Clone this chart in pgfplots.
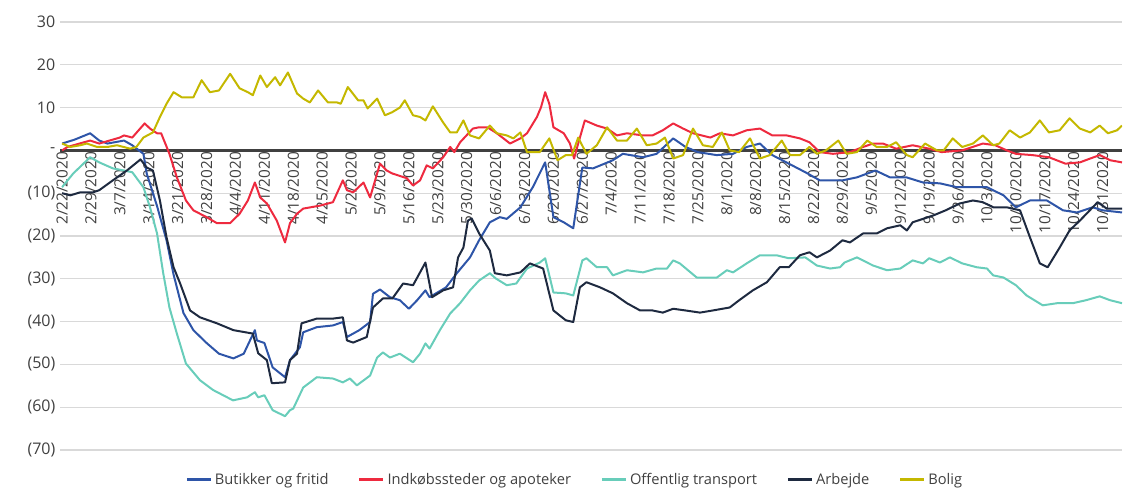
\documentclass[border=0pt]{standalone}
\usepackage{fontspec}
\setmainfont{Open Sans}
\usepackage{pgfplots}
\pgfplotsset{compat=1.18}
\definecolor{cblue}{HTML}{2E55A8}
\definecolor{cred}{HTML}{EE2A3F}
\definecolor{cteal}{HTML}{68CDBA}
\definecolor{cdark}{HTML}{1E2A40}
\definecolor{cyel}{HTML}{C4B800}
\definecolor{cgrid}{HTML}{D9D9D9}
\definecolor{ctext}{HTML}{404040}
\begin{document}
\begin{tikzpicture}
\begin{axis}[
  scale only axis,
  width=796.5pt, height=321pt,
  xmin=-0.5, xmax=256.7,
  ymin=-70, ymax=30,
  axis x line=middle,
  axis y line=left,
  x axis line style={draw=black!75, line width=2.25pt, -},
  y axis line style={draw=none},
  ytick={-70,-60,-50,-40,-30,-20,-10,0,10,20,30},
  yticklabels={(70),(60),(50),(40),(30),(20),(10),-,10,20,30},
  xtick={0,7,...,252},
  xticklabels={2/22/2020,2/29/2020,3/7/2020,3/14/2020,3/21/2020,3/28/2020,4/4/2020,4/11/2020,4/18/2020,4/25/2020,5/2/2020,5/9/2020,5/16/2020,5/23/2020,5/30/2020,6/6/2020,6/13/2020,6/20/2020,6/27/2020,7/4/2020,7/11/2020,7/18/2020,7/25/2020,8/1/2020,8/8/2020,8/15/2020,8/22/2020,8/29/2020,9/5/2020,9/12/2020,9/19/2020,9/26/2020,10/3/2020,10/10/2020,10/17/2020,10/24/2020,10/31/2020},
  xticklabel style={rotate=90, anchor=east, font=\fontsize{11.5}{13}\selectfont, text=ctext, inner sep=1pt},
  yticklabel style={font=\fontsize{12}{14}\selectfont, text=ctext},
  major tick length=0pt,
  ymajorgrids,
  grid style={cgrid, line width=0.9pt},
  every axis plot/.append style={line width=1.5pt, line join=round},
  legend columns=5,
  legend style={at={(0.485,-0.07)}, anchor=center, draw=none, fill=none,
    font=\fontsize{11}{13}\selectfont, text=ctext,
    /tikz/every even column/.append style={column sep=20pt}},
  legend image code/.code={\draw[#1, line width=2.2pt] (0pt,0pt) -- (18pt,0pt);},
]
\addplot[cblue] coordinates {
(0,1.6)(3,2.5)(6.8,4)(9,2.3)(11,1.6)(15,2.3)(17,1.2)(19.7,-0.8)(20.5,-5.4)(23,-13)(25.3,-21)(27,-29)(29.4,-38)(31.8,-42)(35,-45)(38,-47.5)(41.5,-48.6)(44,-47.5)(46.7,-42)(47.2,-44.4)(49,-45)(51,-50.7)(54,-53)(55.2,-49)(57.6,-46)(58.4,-42.5)(61.7,-41.3)(65.6,-40.9)(68,-40.1)(69,-43.6)(72,-42)(74.6,-40.1)(75.3,-33.5)(77,-32.5)(79.4,-34.3)(81.8,-35)(84,-37)(86,-35)(88,-32.7)(89,-34.3)(93,-32)(95.6,-28.7)(98.8,-25)(101,-21)(103.6,-16.8)(106,-15.6)(107.7,-16)(111,-13.3)(114,-8.6)(117,-2.8)(119,-15.6)(121.5,-16.8)(123.8,-18.2)(126,-4)(128.6,-4.2)(133.4,-2.3)(135.8,-0.8)(140.7,-1.6)(144,-0.8)(148,2.8)(151,0.8)(154,-0.4)(158.5,-1.1)(162.5,-0.8)(165.8,0.8)(169,1.6)(172,-1.1)(176,-3.1)(180,-5.1)(183.5,-7)(189,-7)(192.5,-6.3)(197,-4.7)(200.5,-6.3)(204.5,-6.3)(208.5,-7.5)(212.6,-7.7)(216.7,-8.6)(220.6,-8.6)(224,-8.6)(228,-10.5)(231,-13.3)(234.4,-11.7)(238.5,-11.7)(242.4,-14)(245.8,-14.5)(249.6,-13.3)(252,-14)(256.7,-14.5)
};
\addlegendentry{Butikker og fritid}
\addplot[cred] coordinates {
(0,0)(1.3,0.8)(6.8,2.3)(9,1.6)(14,3)(15,3.5)(17,3)(20,6.3)(21.3,5.1)(23,4)(24,4)(26,-0.8)(27.8,-6.3)(30,-11.7)(31.8,-14)(35,-15.6)(37.5,-17)(40.7,-17)(43,-14.8)(45,-11.7)(46.7,-7.5)(48,-11)(49.6,-12.4)(52,-16.4)(54,-21.5)(55.2,-17)(56.9,-14.8)(58.4,-13.6)(62.5,-12.9)(65.6,-12.1)(68,-7)(69,-9.3)(70.5,-9.8)(73,-7.5)(74.6,-11)(77,-3.1)(78.6,-4.7)(80,-5.4)(83.5,-6.5)(85,-8.2)(86.7,-7)(88.3,-3.5)(89.8,-4.2)(92.3,-1.6)(94,0.8)(95,-0.4)(96.4,1.9)(99.5,5.1)(101,5.4)(103,5.4)(105.3,4)(108.5,1.6)(111,2.8)(112.6,4)(115,7.8)(116,10.1)(117,13.6)(118,10.9)(119,5.4)(121.5,4)(123,1.6)(124,-1.9)(125,1.6)(126.6,7)(129.5,5.8)(132,5.1)(134.4,3.5)(136.8,4)(140.7,3.5)(143,3.5)(145.5,4.7)(148,6.3)(150.4,5.1)(152.8,4)(157,3)(159.3,4)(162.5,3.5)(165.8,4.7)(169,5.1)(172,3.5)(175.5,3.5)(178.7,2.8)(181,1.9)(183.5,-0.4)(186.7,-0.8)(190.8,-0.4)(194,0.8)(196.4,1.6)(198.8,1.6)(202,0.4)(206,1.2)(210,0.4)(213,-0.4)(218,0)(223,1.6)(226,1.2)(228.8,0)(231,-0.8)(235,-1.1)(239,-1.6)(243,-3.1)(246.5,-2.8)(249,-1.9)(251.3,-1.1)(253.8,-2.3)(256.7,-2.8)
};
\addlegendentry{Indkøbssteder og apoteker}
\addplot[cteal] coordinates {
(0,-8.6)(2.7,-5.4)(6.8,-1.6)(9,-2.8)(12.3,-4.2)(15,-4.7)(17,-5.1)(19.7,-8.6)(21.3,-13.3)(23,-19.4)(24.5,-28.7)(26,-36.7)(27.8,-42.8)(30,-49.8)(33.4,-53.7)(36.6,-56)(41.4,-58.4)(44.8,-57.7)(46.7,-56.5)(47.5,-57.7)(49,-57.2)(51,-60.7)(54,-62.1)(55.2,-60.7)(56,-60.3)(58.4,-55.4)(61.7,-53)(65.6,-53.3)(68,-54.2)(69.7,-53.3)(71.4,-54.9)(74.6,-52.6)(76.3,-48.4)(77.7,-47.2)(79.4,-48.4)(81.8,-47.5)(85,-49.5)(86.7,-47.5)(88,-45.1)(89,-46.3)(91.5,-42)(94,-38.1)(96.4,-35.7)(98.8,-32.7)(101,-30.4)(103.6,-28.7)(105,-29.9)(107.7,-31.5)(110,-31.1)(112.6,-27.6)(115.7,-26.2)(117,-25.2)(119,-33.2)(122,-33.4)(123.8,-33.9)(126,-25.7)(127,-25.2)(129.5,-27.3)(132,-27.3)(133.4,-29.2)(136.8,-28)(140.7,-28.5)(144,-27.6)(146.5,-27.6)(148,-25.7)(149.6,-26.4)(153.7,-29.7)(158.6,-29.7)(161,-28)(162.5,-28.5)(165.8,-26.4)(169,-24.5)(173,-24.5)(176,-25.2)(180,-25)(182.8,-26.9)(186,-27.6)(188.4,-27.3)(189.5,-26.2)(192.5,-25)(196.4,-26.9)(199.8,-28)(203,-27.6)(206,-25.7)(208.5,-26.4)(210,-25.2)(212.6,-26.2)(215,-25)(218,-26.4)(221.5,-27.3)(224,-27.6)(225.5,-29.2)(228,-29.7)(231,-31.5)(233.6,-33.9)(237.5,-36.2)(241,-35.7)(244.8,-35.7)(248,-35)(251.3,-34.1)(253.8,-35)(256.7,-35.7)
};
\addlegendentry{Offentlig transport}
\addplot[cdark] coordinates {
(0,-10)(2,-10.5)(4.4,-9.8)(7.5,-9.8)(9,-9.3)(12.3,-7)(15.7,-4.7)(19,-2.1)(20.5,-4)(22,-4.7)(23.7,-11.7)(25.3,-20.3)(27,-27.3)(28.6,-31.1)(31,-37.4)(33.4,-39)(37.5,-40.4)(41.5,-42)(46.2,-42.8)(47.5,-47.4)(49.6,-49)(50.8,-54.4)(54,-54.2)(55.2,-49)(56.9,-47.5)(58,-40.4)(61.7,-39.3)(65.6,-39.3)(68,-39)(69,-44.4)(70.5,-44.9)(73.8,-43.6)(75.3,-36.7)(77.7,-34.6)(80,-34.6)(82.6,-31.1)(85,-31.5)(88,-26.2)(89.6,-34.3)(92.3,-32.7)(94.7,-32)(95.9,-25)(97.2,-22.7)(98.3,-16.4)(99.2,-15.9)(101,-19.4)(103.6,-23.4)(104.8,-28.7)(107.7,-29.2)(111,-28.5)(113.3,-26.4)(116.5,-27.6)(119,-37.4)(122,-39.7)(123.8,-40.1)(125.4,-32)(127,-30.8)(130.3,-32)(133.4,-33.4)(136.8,-35.7)(140,-37.4)(143,-37.4)(145.5,-37.9)(148,-37)(151,-37.4)(154.5,-37.9)(157.6,-37.4)(161.7,-36.7)(164,-35)(167.3,-32.7)(170.7,-30.8)(173.8,-27.3)(176,-27.3)(178.7,-24.5)(181,-23.8)(182.8,-25)(186,-23.4)(189,-21)(190.8,-21.5)(194,-19.4)(197.3,-19.4)(199.8,-18.2)(203,-17.5)(204.6,-18.7)(206,-16.8)(211,-15.2)(214,-14)(217.4,-12.4)(220.6,-11.7)(223,-12.1)(225.5,-13.3)(228.8,-13.3)(232,-14)(234.4,-20.3)(236.8,-26.4)(238.7,-27.3)(241.6,-22.7)(244,-18.7)(246.5,-16.4)(250.8,-12.1)(253,-13.6)(256.7,-13.6)
};
\addlegendentry{Arbejde}
\addplot[cyel] coordinates {
(0,1.6)(2,0.8)(4.4,1.2)(6,1.6)(8.5,0.8)(11,0.8)(13.3,1.2)(16.5,0.4)(18,0.8)(19.7,3)(22,4.2)(23.7,7.8)(25.3,10.9)(27,13.6)(29,12.4)(31.8,12.4)(33.8,16.4)(35.8,13.6)(38,14)(40.7,17.9)(43,14.5)(45,13.6)(46.2,12.9)(48,17.5)(49.6,14.8)(51.6,17.1)(52.8,15.2)(54.7,18.2)(56.9,13.3)(58.4,12.1)(60,11.2)(62,14)(64.4,11.2)(66.6,11.2)(67.5,10.9)(69.2,14.8)(71.7,11.7)(73,11.7)(74,9.8)(76.3,12.1)(78.2,8.2)(79.9,8.9)(81.8,10)(83,11.7)(85,8.2)(86.7,7.8)(88,7)(89.8,10.3)(92.3,6.5)(94,4.2)(95.6,4.2)(97.2,7)(98.8,3.5)(101,2.8)(103.6,5.8)(105.3,4)(107.7,3.5)(109.3,2.8)(111,4.2)(112.6,-0.4)(115.7,-0.4)(118,2.8)(120,-2.3)(122,-1.1)(123.5,-1.1)(125,3)(127,-0.8)(129.5,1.2)(132,5.4)(134.4,2.3)(136.8,2.3)(139.2,5.1)(141.6,1.2)(144,1.6)(146,3)(148,-1.9)(150.4,-1.1)(152.8,5.1)(155.2,1.2)(157.6,0.8)(159.8,4.2)(161.7,0)(164,-0.4)(166.6,2.8)(169,-1.9)(171.4,-1.1)(174.3,2.3)(176.3,-1.1)(178.7,-1.1)(181,0.8)(182.8,-0.8)(185,0)(188,2.3)(190,-0.8)(192.5,-0.4)(195,2.3)(197.3,0.8)(199.8,0.8)(202,1.9)(204.6,-1.1)(206,-1.6)(209,1.6)(211.9,0)(213.5,0)(215.7,2.8)(218,0.8)(220.6,1.6)(223,3.5)(225.5,1.2)(227,1.6)(229.5,4.7)(232,3)(234.4,4.2)(236.8,7)(239,4.2)(241.6,4.7)(244,7.5)(246.5,5.1)(249,4.2)(251.3,5.8)(253.3,4)(255.5,4.7)(256.7,5.8)
};
\addlegendentry{Bolig}
\end{axis}
\pgfresetboundingbox
\path[use as bounding box] (-45pt,-28.5pt) rectangle (797.25pt,337.5pt);
\end{tikzpicture}
\end{document}
